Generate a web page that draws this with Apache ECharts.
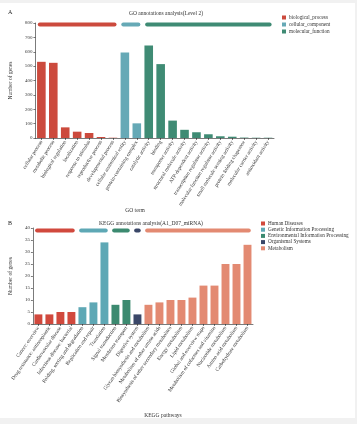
<!DOCTYPE html>
<html><head><meta charset="utf-8">
<script src="https://cdn.jsdelivr.net/npm/echarts@6/dist/echarts.min.js"></script>
<style>html,body{margin:0;padding:0;background:#f1f1f1}#c{width:357px;height:424px}</style>
</head><body><div id="c"></div>
<script>
// ---- Panel A: GO ----
const goBPNames = ['cellular process','metabolic process','biological regulation','localization','response to stimulus','reproductive process','developmental process'];
const goCCNames = ['cellular anatomical entity','protein-containing complex'];
const goMFNames = ['catalytic activity','binding','transporter activity','structural molecule activity','ATP-dependent activity','transcription regulator activity','molecular function regulator activity','small molecule sensing activity','protein folding chaperone','molecular carrier activity','antioxidant activity'];
const goBP = [530,523,74,44,35,7,2];
const goCC = [595,102];
const goMF = [644,514,121,57,40,26,12,9,3,2,2];
const goGroups = ['biological_process','cellular_component','molecular_function'];
const goTicks = [0,100,200,300,400,500,600,700,800];

// ---- Panel B: KEGG ----
const kgHDNames = ['Cancer: overview','Drug resistance: antineoplastic','Cardiovascular disease','Infectious disease: bacterial'];
const kgGIPNames = ['Folding, sorting and degradation','Replication and repair','Translation'];
const kgEIPNames = ['Signal transduction','Membrane transport'];
const kgOSNames = ['Digestive system'];
const kgMNames = ['Glycan biosynthesis and metabolism','Metabolism of other amino acids','Biosynthesis of other secondary metabolites','Energy metabolism','Lipid metabolism','Global and overview maps','Metabolism of cofactors and vitamins','Nucleotide metabolism','Amino acid metabolism','Carbohydrate metabolism'];
const kgHD = [4,4,5,5];
const kgGIP = [7,9,34];
const kgEIP = [8,10];
const kgOS = [4];
const kgM = [8,9,10,10,11,16,16,25,25,33];
const kgGroups = ['Human Diseases','Genetic Information Processing','Environmental Information Processing','Organismal Systems','Metabolism'];
const kgTicks = [0,5,10,15,20,25,30,35,40];

const goColors = ['#cc4a3d','#66a9b6','#3f8b74'];
const kgColors = ['#d1493d','#5ea8b5','#3c8a70','#3a4768','#e38a72'];
const FONT = 'Liberation Serif';

function build(groupNames, groupVals){
  const cats = [].concat(...groupNames);
  const series = [], ranges = [];
  let off = 0;
  groupVals.forEach((vals, g) => {
    const d = cats.map(() => null);
    vals.forEach((v, i) => { d[off + i] = v; });
    series.push(d);
    ranges.push([off, off + vals.length - 1]);
    off += vals.length;
  });
  return {cats, series, ranges};
}
const A = build([goBPNames, goCCNames, goMFNames], [goBP, goCC, goMF]);
const B = build([kgHDNames, kgGIPNames, kgEIPNames, kgOSNames, kgMNames], [kgHD, kgGIP, kgEIP, kgOS, kgM]);

function renderGroupLine(params, api){
  const s = api.value(0), e = api.value(1), v = api.value(2);
  const p1 = api.coord([s, v]), p2 = api.coord([e, v]);
  const bw = api.size([1, 0])[0];
  const half = bw * 0.3;
  return {type:'rect', shape:{x:p1[0]-half, y:p1[1]-2, width:p2[0]-p1[0]+2*half, height:4, r:2},
          style:{fill: api.visual('color')}};
}

const series = [];
A.series.forEach((d, g) => series.push({type:'bar', name:goGroups[g], stack:'a', xAxisIndex:0, yAxisIndex:0,
  data:d, barWidth:'72%', itemStyle:{color:goColors[g]}}));
A.ranges.forEach((r, g) => series.push({type:'custom', name:'ga'+g, xAxisIndex:0, yAxisIndex:0,
  renderItem:renderGroupLine, encode:{x:0,y:2}, data:[[r[0], r[1], 790]], itemStyle:{color:goColors[g]}, silent:true}));
B.series.forEach((d, g) => series.push({type:'bar', name:kgGroups[g], stack:'b', xAxisIndex:1, yAxisIndex:1,
  data:d, barWidth:'72%', itemStyle:{color:kgColors[g]}}));
B.ranges.forEach((r, g) => series.push({type:'custom', name:'gb'+g, xAxisIndex:1, yAxisIndex:1,
  renderItem:renderGroupLine, encode:{x:0,y:2}, data:[[r[0], r[1], 39]], itemStyle:{color:kgColors[g]}, silent:true}));

const axisLine = {show:true, lineStyle:{color:'#222', width:0.6}};
const axisTick = {show:true, length:2, lineStyle:{color:'#222', width:0.6}};
const labelStyle = {fontFamily:FONT, fontSize:5, color:'#333'};
const xLabelStyle = {fontFamily:FONT, fontSize:5.2, color:'#333'};

const option = {
  animation:false,
  textStyle:{fontFamily:FONT},
  graphic:[{type:'rect', shape:{x:0,y:3,width:355,height:415}, style:{fill:'#fff'}, z:-10, silent:true}],
  title:[
    {text:'A', left:3, top:4, textStyle:{fontFamily:FONT, fontSize:6, fontWeight:'normal', color:'#222'}},
    {text:'GO annotations analysis(Level 2)', left:161, top:6, textAlign:'center', textStyle:{fontFamily:FONT, fontSize:5.5, fontWeight:'normal', color:'#333'}},
    {text:'GO term', left:130, top:203, textAlign:'center', textStyle:{fontFamily:FONT, fontSize:5.5, fontWeight:'normal', color:'#333'}},
    {text:'B', left:3, top:215, textStyle:{fontFamily:FONT, fontSize:6, fontWeight:'normal', color:'#222'}},
    {text:'KEGG annotations analysis(A1_D07_miRNA)', left:146, top:216, textAlign:'center', textStyle:{fontFamily:FONT, fontSize:5.5, fontWeight:'normal', color:'#333'}},
    {text:'KEGG pathways', left:158, top:408, textAlign:'center', textStyle:{fontFamily:FONT, fontSize:5.5, fontWeight:'normal', color:'#333'}}
  ],
  legend:[
    {data:goGroups, left:277, top:10, orient:'vertical', itemWidth:4, itemHeight:4, itemGap:2, icon:'rect',
     textStyle:{fontFamily:FONT, fontSize:5.2, color:'#333', padding:[0,0,0,-2]}},
    {data:kgGroups, left:256, top:216, orient:'vertical', itemWidth:4, itemHeight:4, itemGap:1.2, icon:'rect',
     textStyle:{fontFamily:FONT, fontSize:5.2, color:'#333', padding:[0,0,0,-2]}}
  ],
  grid:[
    {left:27, right:83, top:23, bottom:286, containLabel:false},
    {left:27, right:104, top:228, bottom:100, containLabel:false}
  ],
  xAxis:[
    {type:'category', gridIndex:0, data:A.cats, axisLine, axisTick:{...axisTick, alignWithLabel:true},
     axisLabel:{...xLabelStyle, rotate:58, interval:0, margin:3}},
    {type:'category', gridIndex:1, data:B.cats, axisLine, axisTick:{...axisTick, alignWithLabel:true},
     axisLabel:{...xLabelStyle, rotate:55, interval:0, margin:3}}
  ],
  yAxis:[
    {type:'value', gridIndex:0, min:goTicks[0], max:goTicks[goTicks.length-1], interval:goTicks[1]-goTicks[0],
     axisLine, axisTick, splitLine:{show:false}, axisLabel:{...labelStyle, margin:3},
     name:'Number of genes', nameLocation:'middle', nameGap:16, nameTextStyle:{fontFamily:FONT, fontSize:5.5, color:'#333'}},
    {type:'value', gridIndex:1, min:kgTicks[0], max:kgTicks[kgTicks.length-1], interval:kgTicks[1]-kgTicks[0],
     axisLine, axisTick, splitLine:{show:false}, axisLabel:{...labelStyle, margin:3},
     name:'Number of genes', nameLocation:'middle', nameGap:14, nameTextStyle:{fontFamily:FONT, fontSize:5.5, color:'#333'}}
  ],
  series
};
const chart = echarts.init(document.getElementById('c'), null, {renderer:'canvas'});
chart.setOption(option);
</script></body></html>
